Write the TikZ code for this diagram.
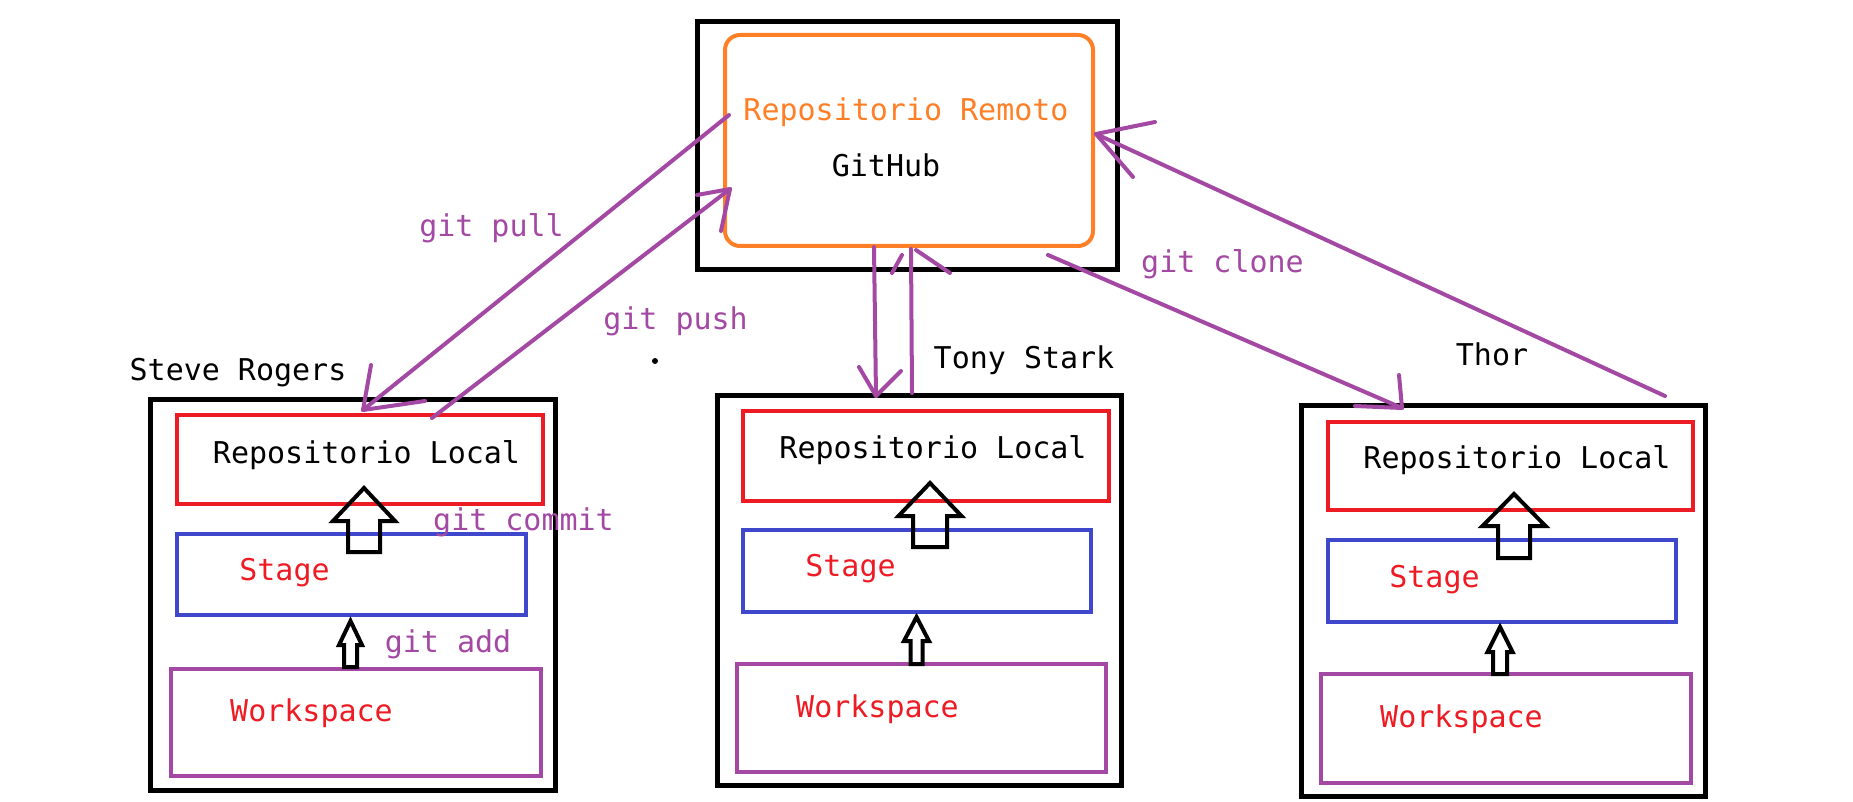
\documentclass[tikz,border=0pt]{standalone}
\usepackage{fontspec}
\setmainfont{DejaVu Sans Mono}
\definecolor{pPurple}{HTML}{A349A4}
\definecolor{pRed}{HTML}{ED1C24}
\definecolor{pBlue}{HTML}{3F48CC}
\definecolor{pOrange}{HTML}{FF7F27}
\newcommand\blkarrow[6]{% cx, tip y, head base y, bottom y, head half, shaft half
  \draw[blockarr] ({#1-#6},#4) -- ({#1-#6},#3) -- ({#1-#5},#3) -- (#1,#2)
    -- ({#1+#5},#3) -- ({#1+#6},#3) -- ({#1+#6},#4) -- cycle;}
\begin{document}
\begin{tikzpicture}[x=1pt,y=-1pt,
  outerbox/.style={draw=black, line width=5pt, inner sep=0pt},
  redbox/.style={draw=pRed, line width=4pt, inner sep=0pt},
  bluebox/.style={draw=pBlue, line width=4pt, inner sep=0pt},
  wsbox/.style={draw=pPurple, line width=4pt, inner sep=0pt},
  orangebox/.style={draw=pOrange, line width=4pt, rounded corners=15pt, inner sep=0pt},
  txt/.style={inner sep=0pt, anchor=base, font=\fontsize{30}{36}\selectfont},
  conn/.style={draw=pPurple, line width=4pt, line cap=round, line join=round},
  blockarr/.style={draw=black, line width=4pt, line join=miter},
]
\useasboundingbox (0,0) rectangle (1853,802);

% ---------- remote ----------
\node[outerbox, minimum width=420pt, minimum height=248pt] (remoteout) at (907,146) {};
\node[orangebox, minimum width=368pt, minimum height=211pt] (remote) at (909,140.5) {};
\node[txt, text=pOrange] (remotetitle) at (906,121) {Repositorio Remoto};
\node[txt, text=black] (github) at (886,177) {GitHub};

% ---------- Steve Rogers ----------
\node[outerbox, minimum width=405pt, minimum height=391pt] (steve) at (352.5,594.5) {};
\node[redbox, minimum width=366pt, minimum height=89pt] (steveRL) at (360,459.5) {};
\node[bluebox, minimum width=349pt, minimum height=81pt] (steveST) at (351.5,574.5) {};
\node[wsbox, minimum width=370pt, minimum height=107pt] (steveWS) at (356,722.5) {};
\node[txt] (steveName) at (238,381) {Steve Rogers};
\node[txt] (steveRLt) at (366.5,463) {Repositorio Local};
\node[txt, text=pRed] (steveSTt) at (284.5,580) {Stage};
\node[txt, text=pRed] (steveWSt) at (311.5,721) {Workspace};
\node[txt, text=pPurple] (commitlbl) at (523.5,530) {git commit};
\node[txt, text=pPurple] (addlbl) at (448,652) {git add};
\blkarrow{364}{488}{521}{552}{31}{16}
\blkarrow{350.5}{621}{645}{667}{11.5}{6.5}

% ---------- Tony Stark ----------
\node[outerbox, minimum width=404pt, minimum height=390pt] (tony) at (919,590) {};
\node[redbox, minimum width=366pt, minimum height=90pt] (tonyRL) at (926,456) {};
\node[bluebox, minimum width=348pt, minimum height=82pt] (tonyST) at (917,571) {};
\node[wsbox, minimum width=369pt, minimum height=108pt] (tonyWS) at (921.5,718) {};
\node[txt] (tonyName) at (1024,368) {Tony Stark};
\node[txt] (tonyRLt) at (933,458) {Repositorio Local};
\node[txt, text=pRed] (tonySTt) at (850.5,576) {Stage};
\node[txt, text=pRed] (tonyWSt) at (877.5,717) {Workspace};
\blkarrow{930}{483}{516}{547}{31.5}{17}
\blkarrow{916.5}{617}{641}{664}{12.5}{6}

% ---------- Thor ----------
\node[outerbox, minimum width=404pt, minimum height=391pt] (thor) at (1503,600.5) {};
\node[redbox, minimum width=365pt, minimum height=88pt] (thorRL) at (1510.5,466) {};
\node[bluebox, minimum width=348pt, minimum height=82pt] (thorST) at (1502,581) {};
\node[wsbox, minimum width=370pt, minimum height=109pt] (thorWS) at (1506,728.5) {};
\node[txt] (thorName) at (1492,365) {Thor};
\node[txt] (thorRLt) at (1517,468) {Repositorio Local};
\node[txt, text=pRed] (thorSTt) at (1434.5,587) {Stage};
\node[txt, text=pRed] (thorWSt) at (1461.5,727) {Workspace};
\blkarrow{1514}{494}{526}{558}{31.5}{16}
\blkarrow{1500}{627}{652}{674}{12.5}{7}

% ---------- labels between ----------
\node[txt, text=pPurple] (pulllbl) at (491.5,237) {git pull};
\node[txt, text=pPurple] (pushlbl) at (675.5,330) {git push};
\node[txt, text=pPurple] (clonelbl) at (1222.5,273) {git clone};
\node[circle, fill=black, inner sep=0pt, minimum size=6pt] (dot) at (655,361) {};

% ---------- connector points ----------
\coordinate (pullS) at (729,115);
\coordinate (pullE) at (363,410);
\coordinate (pullL1) at (371,365);
\coordinate (pullL2) at (425,401);
\coordinate (pushS) at (432,418);
\coordinate (pushE) at (730,189);
\coordinate (pushL1) at (697,195);
\coordinate (pushL2) at (721,231);
\coordinate (tdS) at (874,247);
\coordinate (tdE) at (876,396);
\coordinate (tdL1) at (859,367);
\coordinate (tdL2) at (901,371);
\coordinate (tuS) at (912,393);
\coordinate (tuE) at (911,249);
\coordinate (tuL1a) at (892,273);
\coordinate (tuL1b) at (902,255);
\coordinate (tuL2a) at (916,250);
\coordinate (tuL2b) at (950,273);
\coordinate (clS) at (1048,255);
\coordinate (clE) at (1402,408);
\coordinate (clL1) at (1399,375);
\coordinate (clL2) at (1355,406);
\coordinate (thS) at (1665,396);
\coordinate (thE) at (1096,134);
\coordinate (thL1) at (1155,122);
\coordinate (thL2) at (1133,177);

% ---------- connectors ----------
\draw[conn] (pullS) -- (pullE);
\draw[conn] (pullL1) -- (pullE) -- (pullL2);
\draw[conn] (pushS) -- (pushE);
\draw[conn] (pushL1) -- (pushE) -- (pushL2);
\draw[conn] (tdS) -- (tdE);
\draw[conn] (tdL1) -- (tdE) -- (tdL2);
\draw[conn] (tuS) -- (tuE);
\draw[conn] (tuL1a) -- (tuL1b);
\draw[conn] (tuL2a) -- (tuL2b);
\draw[conn] (clS) -- (clE);
\draw[conn] (clL1) -- (clE) -- (clL2);
\draw[conn] (thS) -- (thE);
\draw[conn] (thL1) -- (thE) -- (thL2);
\end{tikzpicture}
\end{document}
